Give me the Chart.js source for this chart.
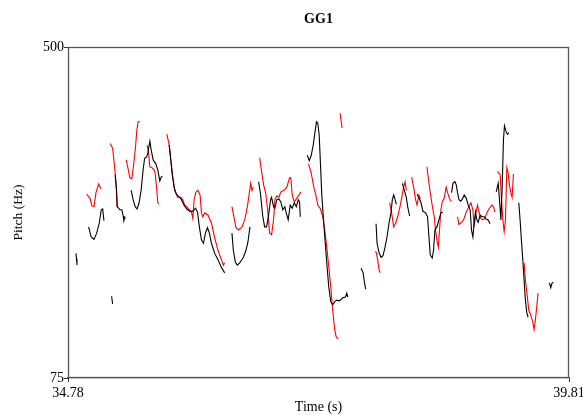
<!DOCTYPE html>
<html>
<head>
<meta charset="utf-8">
<script src="https://cdn.jsdelivr.net/npm/chart.js@4.4.1/dist/chart.umd.min.js"></script>
<style>
html,body{margin:0;padding:0;background:#fff;}
#wrap{width:583px;height:415px;}
</style>
</head>
<body>
<div id="wrap"><canvas id="c" width="583" height="415"></canvas></div>
<script>
const chartTitle = "GG1";
const xTitle = "Time (s)";
const yTitle = "Pitch (Hz)";
const timeMin = 34.78, timeMax = 39.81;
const pitchMin = 75, pitchMax = 500;
const xTickValues = [34.78, 39.81];
const yTickValues = [75, 500];

const blackTime = [
34.860,34.865,34.870,null,
34.987,35.013,35.041,35.068,35.094,35.114,35.128,35.141,null,
35.218,35.228,null,
35.254,35.268,35.274,35.288,35.301,35.321,35.334,35.341,35.354,null,
35.414,35.434,35.454,35.474,35.494,35.514,35.534,35.549,35.569,35.582,35.602,35.615,35.635,35.662,35.682,35.702,35.715,35.729,null,
35.797,35.805,35.825,35.845,35.865,35.885,35.919,35.945,35.972,36.005,36.033,36.060,36.080,36.100,36.120,36.140,36.160,36.180,36.200,36.220,36.253,36.286,36.320,36.353,null,
36.426,36.440,36.460,36.480,36.506,36.541,36.567,36.587,36.607,null,
36.694,36.714,36.734,36.754,36.774,36.794,36.814,36.824,36.844,36.857,36.877,36.897,36.917,36.937,36.957,36.971,36.991,37.011,37.031,37.052,37.072,37.092,37.105,37.112,null,
37.182,37.202,37.222,37.242,37.262,37.275,37.288,37.302,37.315,37.328,37.340,37.358,37.378,37.398,37.418,37.438,37.458,37.478,37.505,37.539,37.566,37.579,37.589,null,
37.723,37.743,37.756,37.769,null,
37.873,37.883,37.903,37.923,37.943,37.963,37.983,38.003,38.023,38.036,38.050,38.064,38.077,null,
38.137,38.157,38.177,38.190,38.210,null,
38.284,38.304,38.324,38.344,38.370,38.390,38.404,38.417,38.437,38.450,38.464,38.484,38.504,38.524,38.544,null,
38.631,38.645,38.665,38.678,38.691,38.705,38.723,38.741,38.758,38.778,38.798,38.818,38.831,38.845,38.858,38.871,38.885,38.898,38.918,38.938,38.958,38.978,38.998,39.018,null,
39.079,39.099,39.112,39.126,39.139,39.152,39.162,39.179,39.192,39.206,null,
39.306,39.319,39.332,39.346,39.359,39.372,39.386,39.399,null,
39.613,39.627,39.640,39.653
];
const blackPitch = [
235,228,220,null,
269,256,253,261,274,291,292,277,null,
180,170,null,
336,316,295,293,291,291,283,277,282,null,
316,304,295,292,300,316,342,357,359,364,379,368,355,350,342,328,333,334,null,
374,364,338,320,312,309,304,297,292,289,289,293,288,268,252,248,261,268,261,248,235,227,217,210,null,
261,239,224,220,223,230,239,250,269,null,
327,310,284,269,269,284,304,307,295,293,304,305,301,291,295,287,278,297,293,300,295,304,301,282,null,
361,354,361,374,393,404,402,387,349,310,288,256,223,192,173,169,173,175,174,178,179,184,179,null,
216,210,198,189,null,
273,248,236,230,232,243,256,274,287,304,310,304,298,null,
325,316,307,295,283,null,
311,306,300,289,287,282,256,233,229,239,265,269,278,287,288,null,
313,325,327,323,313,304,302,305,310,306,297,291,265,256,274,288,278,275,284,282,282,279,278,273,null,
314,325,304,278,320,381,399,391,388,390,null,
300,278,252,227,201,175,159,153,null,
197,191,197,198
];

const redTime = [
34.967,35.000,35.020,35.041,35.061,35.088,35.111,null,
35.204,35.228,35.248,35.264,35.274,null,
35.364,35.381,35.401,35.421,35.441,35.458,35.471,35.484,35.504,null,
35.575,35.589,35.602,35.622,35.642,35.655,35.669,35.682,35.692,null,
35.772,35.792,35.812,35.832,35.852,35.879,35.912,35.932,35.952,35.985,36.019,36.033,36.046,36.066,36.086,36.106,36.120,36.133,36.153,36.186,36.220,36.253,36.286,36.320,36.340,36.353,null,
36.426,36.446,36.466,36.493,36.527,36.554,36.581,36.601,36.614,36.627,36.641,null,
36.704,36.724,36.744,36.764,36.784,36.804,36.824,36.844,36.857,36.877,36.897,36.917,36.951,36.977,37.004,37.017,37.031,37.052,37.078,37.098,37.118,null,
37.195,37.222,37.248,37.268,37.288,37.315,37.338,37.358,37.378,37.398,37.418,37.438,37.458,37.472,37.492,null,
37.512,37.532,null,
37.863,37.876,37.889,37.903,37.916,null,
38.009,38.029,38.050,38.070,38.090,38.110,38.130,38.150,38.164,38.177,null,
38.230,38.250,38.270,38.284,38.304,38.317,null,
38.384,38.404,38.424,38.444,38.457,38.470,38.484,38.498,38.510,38.524,38.537,38.557,38.577,38.591,38.611,38.625,null,
38.691,38.705,38.725,38.751,38.778,38.805,38.825,38.845,38.858,38.871,38.891,38.905,38.925,38.945,38.965,38.985,39.005,39.025,39.038,39.052,39.066,null,
39.091,39.119,39.132,39.146,39.159,39.172,39.186,39.199,39.212,39.226,39.239,39.252,null,
39.359,39.372,39.392,39.406,39.426,39.446,39.459,39.472,39.486,39.499
];
const redPitch = [
311,306,296,295,313,324,318,null,
376,370,346,320,295,null,
355,345,332,331,351,372,393,404,404,null,
374,364,346,345,343,338,320,300,298,null,
388,377,355,333,316,307,307,304,297,293,288,280,304,314,316,310,287,282,287,284,274,255,239,227,220,223,null,
295,282,268,265,269,278,295,313,325,316,320,null,
358,340,323,313,291,261,259,278,304,309,307,314,316,320,332,332,310,301,306,310,314,null,
350,338,320,310,297,292,282,265,243,218,192,162,137,128,125,null,
415,396,null,
237,236,227,214,210,null,
300,287,269,274,282,293,306,320,327,316,null,
333,320,304,297,310,305,null,
346,325,307,291,282,265,252,243,265,291,301,306,320,313,305,302,null,
282,272,274,278,288,295,300,291,269,284,297,289,280,278,280,287,292,295,297,295,288,null,
340,336,304,278,263,278,345,338,323,313,307,337,null,
223,201,179,162,156,147,137,149,166,184
];

function toPoints(ts, ps){ return ts.map((t,i)=>({x:t, y:ps[i]})); }

const serif = "'Liberation Serif','Times New Roman',serif";

const frameAndTitle = {
  id:'frameAndTitle',
  afterDatasetsDraw(chart){
    const a = chart.chartArea, c = chart.ctx;
    c.save();
    c.strokeStyle='#555'; c.lineWidth=1.3;
    c.strokeRect(a.left+0.5, a.top+0.5, a.right-a.left-1, a.bottom-a.top-1);
    c.fillStyle='#000';
    c.font = "bold 14px " + serif;
    c.textAlign='center'; c.textBaseline='middle';
    c.fillText(chartTitle, (a.left+a.right)/2, 19);
    c.restore();
  }
};

new Chart(document.getElementById('c'), {
  type:'line',
  data:{datasets:[
    {label:'black', data:toPoints(blackTime, blackPitch), borderColor:'#000', borderWidth:1.1, pointRadius:0, tension:0, spanGaps:false},
    {label:'red', data:toPoints(redTime, redPitch), borderColor:'#ff0000', borderWidth:1.1, pointRadius:0, tension:0, spanGaps:false}
  ]},
  plugins:[frameAndTitle],
  options:{
    responsive:false, animation:false, devicePixelRatio:1,
    layout:{padding:{left:0,right:14,top:47,bottom:0}},
    plugins:{
      legend:{display:false}, tooltip:{enabled:false}, title:{display:false}
    },
    scales:{
      x:{type:'linear', min:timeMin, max:timeMax,
        afterBuildTicks(s){ s.ticks = xTickValues.map(v=>({value:v})); },
        afterFit(s){ s.height = 37; s.paddingLeft = 0; s.paddingRight = 0; },
        ticks:{color:'#000', font:{family:serif,size:14}, padding:3, maxRotation:0, autoSkip:false, callback:v=>v.toFixed(2)},
        grid:{display:true, drawOnChartArea:false, drawTicks:true, tickLength:4, color:'#333'},
        border:{display:true, color:'#555', width:1.3},
        title:{display:true, text:xTitle, color:'#000', font:{family:serif,size:14}, padding:{top:0,bottom:-1}}
      },
      y:{type:'linear', min:pitchMin, max:pitchMax,
        afterBuildTicks(s){ s.ticks = yTickValues.map(v=>({value:v})); },
        afterFit(s){ s.width = 68; s.paddingTop = 0; s.paddingBottom = 0; },
        ticks:{color:'#000', font:{family:serif,size:14}, padding:0, autoSkip:false},
        grid:{display:true, drawOnChartArea:false, drawTicks:true, tickLength:4, color:'#333'},
        border:{display:true, color:'#222', width:1},
        title:{display:true, text:yTitle, color:'#000', font:{family:serif,size:13.5}, padding:{top:10,bottom:10}}
      }
    }
  }
});
</script>
</body>
</html>
